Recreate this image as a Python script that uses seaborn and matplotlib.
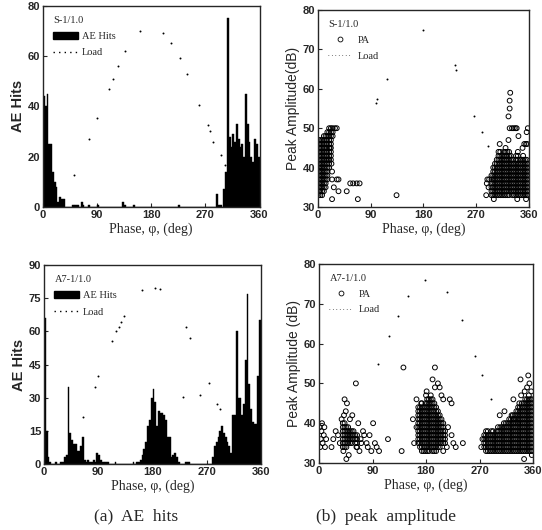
import numpy as np
import pandas as pd
import matplotlib
matplotlib.use("Agg")
import matplotlib.pyplot as plt
import seaborn as sns
from matplotlib.patches import Patch
from matplotlib.lines import Line2D

# ---- data ----
# AE hits per 3 deg phase bin, 0..357
bin_edges = list(range(0, 363, 3))

s1_hits = [44, 40, 45, 25, 25, 14, 10, 8, 2, 4,
           3, 3, 0, 0, 0, 0, 1, 1, 1, 1,
           0, 2, 1, 0, 0, 1, 0, 0, 0, 0,
           1, 0, 0, 0, 0, 0, 0, 0, 0, 0,
           0, 0, 0, 0, 2, 1, 0, 0, 0, 0,
           1, 0, 0, 0, 0, 0, 0, 0, 0, 0,
           0, 0, 0, 0, 0, 0, 0, 0, 0, 0,
           0, 0, 0, 0, 0, 1, 0, 0, 0, 0,
           0, 0, 0, 0, 0, 0, 0, 0, 0, 0,
           0, 0, 0, 0, 0, 0, 5, 1, 1, 0,
           7, 14, 75, 28, 24, 29, 26, 33, 27, 24,
           25, 20, 45, 33, 26, 20, 18, 27, 25, 20]

a7_hits = [66, 15, 3, 1, 0, 0, 1, 0, 0, 1,
           1, 3, 4, 35, 14, 11, 9, 9, 6, 6,
           8, 12, 2, 1, 2, 1, 1, 2, 1, 5,
           4, 2, 1, 1, 1, 1, 0, 0, 0, 1,
           0, 0, 0, 0, 0, 0, 0, 0, 0, 1,
           0, 1, 1, 2, 4, 7, 10, 17, 20, 30,
           34, 28, 17, 24, 23, 23, 22, 20, 12, 12,
           3, 4, 5, 3, 1, 0, 0, 0, 1, 1,
           1, 0, 0, 0, 0, 0, 0, 0, 0, 0,
           0, 0, 0, 3, 8, 10, 12, 15, 17, 14,
           12, 10, 8, 5, 22, 22, 60, 30, 30, 22,
           27, 47, 77, 36, 25, 19, 18, 18, 40, 65]

# load dots (in each panel's own y units)
s1_load_phase = [52, 77, 90, 109, 116, 124, 137, 162, 199, 213, 228, 240, 260, 274, 278, 283, 296, 303]
s1_load_hits = [12.7, 27, 35.5, 47, 51, 56, 62, 70, 69, 65, 59, 53, 40.5, 32.5, 30, 26, 20.5, 16.5]

s1_load_pa_phase = [99, 100, 117, 180, 234, 236, 266, 280, 290]
s1_load_pa = [56.3, 57.5, 62.6, 75, 66, 64.7, 53, 49, 45.5]

a7_load_phase = [64, 84, 90, 112, 120, 124, 128, 132, 162, 184, 192, 230, 235, 243, 258, 274, 287, 292]
a7_load_hits = [21.4, 35, 39.8, 55.8, 60, 62, 64, 67, 78.7, 79.8, 79, 30.5, 61.8, 57, 31, 36.5, 27, 25]

a7_load_pa_phase = [100, 118, 133, 150, 178, 215, 240, 262, 275, 290]
a7_load_pa = [55, 62, 67, 72, 76, 73, 66, 57, 52, 46]

# peak amplitude, dense columns: phase, lowest dB, highest dB (one hit per dB)
s1_col_phase = [1, 4, 7, 10, 13, 16, 19, 22, 25,
                296, 299, 302, 305, 308, 311, 314, 317, 320, 323, 326, 329,
                332, 335, 338, 341, 344, 347, 350, 353, 356, 359]
s1_col_lo = [33, 33, 33, 34, 35, 37, 40, 42, 48,
             33, 33, 33, 33, 33, 33, 33, 33, 33, 33, 33, 34,
             33, 33, 33, 33, 33, 33, 33, 33, 33, 33]
s1_col_hi = [47, 47, 47, 48, 48, 49, 50, 50, 50,
             38, 40, 41, 42, 44, 44, 43, 44, 45, 44, 44, 43,
             42, 41, 43, 44, 42, 42, 43, 42, 42, 41]
# scattered single hits
s1_pt_phase = [23, 24, 24, 27, 32, 35, 35, 49, 55, 60, 66, 71, 68, 24, 134, 29, 32, 20, 18,
               287, 288, 289, 291, 292, 310, 325, 325, 327, 327, 328, 327, 331, 334, 337,
               339, 342, 349, 352, 355, 357, 356, 358, 300, 340, 355]
s1_pt_db = [41, 39, 37, 35, 37, 37, 34, 34, 36, 36, 36, 36, 32, 32, 33, 50, 50, 45, 42,
            33, 36, 37, 35, 37, 46, 47, 53, 55, 57, 59, 50, 50, 50, 50,
            50, 48, 45, 46, 46, 46, 49, 50, 32, 32, 32]

a7_col_phase = [40, 43, 46, 49, 52, 55, 58, 61, 64,
                167, 170, 173, 176, 179, 182, 185, 188, 191, 194, 197, 200, 203, 206, 209, 212,
                278, 281, 284, 287, 290, 293, 296, 299, 302, 305, 308, 311, 314, 317, 320,
                323, 326, 329, 332, 335, 338, 341, 344, 347, 350, 353, 356, 359]
a7_col_lo = [34, 34, 34, 35, 35, 35, 36, 35, 34,
             35, 34, 33, 33, 33, 33, 33, 34, 33, 33, 33, 34, 34, 35, 35, 35,
             34, 33, 33, 33, 33, 33, 33, 33, 33, 33, 33, 33, 33, 33, 33,
             33, 33, 33, 33, 33, 33, 33, 33, 33, 33, 33, 33, 33]
a7_col_hi = [39, 40, 39, 39, 38, 38, 38, 37, 37,
             44, 44, 45, 44, 45, 46, 46, 47, 46, 45, 44, 43, 42, 41, 40, 38,
             37, 38, 38, 37, 38, 38, 37, 38, 38, 39, 39, 40, 40, 40, 41,
             41, 42, 42, 43, 44, 44, 45, 45, 46, 46, 47, 46, 46]
a7_pt_phase = [2, 3, 4, 5, 6, 8, 9, 10, 12, 1,
               43, 47, 45, 38, 40, 42, 52, 56, 62, 46, 41, 24, 21, 32, 35, 68, 71, 74, 63, 70,
               76, 80, 82, 85, 88, 91, 94, 97, 101, 116, 28, 50, 66,
               164, 172, 180, 181, 191, 195, 195, 200, 203, 206, 209, 220, 223, 142, 139, 158,
               164, 217, 223, 226, 242, 209, 215, 160, 230,
               304, 312, 324, 327, 337, 340, 339, 352, 354, 301, 328, 335, 346, 350, 357,
               275, 273, 358, 345]
a7_pt_db = [34, 36, 38, 40, 35, 37, 39, 34, 36, 39,
            46, 45, 43, 41, 40, 42, 41, 42, 50, 31, 33, 36, 34, 37, 35, 33, 35, 38, 34, 36,
            37, 35, 34, 37, 33, 40, 35, 34, 33, 36, 38, 32, 40,
            46, 45, 47, 48, 51, 49, 54, 50, 49, 47, 46, 46, 45, 54, 33, 41,
            39, 39, 37, 35, 35, 33, 34, 35, 34,
            42, 43, 42, 46, 45, 47, 51, 52, 50, 39, 41, 40, 48, 49, 48,
            36, 34, 32, 31]


def expand(col_phase, col_lo, col_hi, pt_phase, pt_db):
    ph, db = [], []
    for p, lo, hi in zip(col_phase, col_lo, col_hi):
        for d in range(lo, hi + 1):
            ph.append(p)
            db.append(d)
    return pd.DataFrame({"phase": ph + pt_phase, "db": db + pt_db})


sns.set_style("ticks")
serif = ["Liberation Serif", "DejaVu Serif"]
plt.rcParams["font.family"] = serif
plt.rcParams["xtick.direction"] = "in"
plt.rcParams["ytick.direction"] = "in"

fig = plt.figure(figsize=(5.42, 5.30), dpi=100)
ax1 = fig.add_axes([0.0793, 0.6094, 0.3995, 0.3800])
ax2 = fig.add_axes([0.5867, 0.6094, 0.3893, 0.3717])
ax3 = fig.add_axes([0.0812, 0.1245, 0.4004, 0.3755])
ax4 = fig.add_axes([0.5886, 0.1264, 0.3948, 0.3755])

centers = [e + 1.5 for e in bin_edges[:-1]]
tick_font = dict(family=["Liberation Sans", "DejaVu Sans"], weight="bold", size=8)


def hits_panel(ax, hits, lphase, lval, ymax, ystep, name):
    sns.histplot(x=centers, weights=hits, bins=bin_edges, color="black",
                 edgecolor="black", linewidth=0.3, alpha=1, ax=ax)
    sns.scatterplot(x=lphase, y=lval, color="black", s=2, linewidth=0, ax=ax)
    ax.set_ylim(0, ymax)
    ax.set_yticks(np.arange(0, ymax + 1, ystep))
    ax.set_ylabel("AE Hits", fontsize=10.5, fontweight="bold",
                  family=["Liberation Sans", "DejaVu Sans"], labelpad=2)
    handles = [Patch(facecolor="black", edgecolor="black"),
               Line2D([], [], color="black", ls=(0, (1, 3)), lw=1)]
    ax.legend(handles, ["AE Hits", "Load"], title=name, loc="upper left",
              frameon=False, fontsize=7.5, title_fontsize=7.5, handlelength=2.4,
              handletextpad=0.3, labelspacing=0.65, borderaxespad=0.6,
              alignment="left")


def pa_panel(ax, df, lphase, lval, name, ylabel):
    sns.scatterplot(data=df, x="phase", y="db", marker="o", s=12,
                    facecolors="none", edgecolor="black", linewidth=0.7, ax=ax)
    sns.scatterplot(x=lphase, y=lval, color="black", s=2, linewidth=0, ax=ax)
    ax.set_ylim(30, 80)
    ax.set_yticks(np.arange(30, 81, 10))
    ax.set_ylabel(ylabel, fontsize=10, family=["Liberation Sans", "DejaVu Sans"], labelpad=2)
    handles = [Line2D([], [], color="black", marker="o", mfc="none", ls="", ms=3.5, mew=0.6),
               Line2D([], [], color="black", ls=(0, (1, 4)), lw=0.5)]
    ax.legend(handles, ["PA", "Load"], title=name, loc="upper left",
              frameon=False, fontsize=7.5, title_fontsize=7.5, handlelength=2.3,
              handletextpad=0.5, labelspacing=0.6, borderaxespad=0.6,
              alignment="left")


hits_panel(ax1, s1_hits, s1_load_phase, s1_load_hits, 80, 20, "S-1/1.0")
hits_panel(ax3, a7_hits, a7_load_phase, a7_load_hits, 90, 15, "A7-1/1.0")
pa_panel(ax2, expand(s1_col_phase, s1_col_lo, s1_col_hi, s1_pt_phase, s1_pt_db),
         s1_load_pa_phase, s1_load_pa, "S-1/1.0", "Peak Amplitude(dB)")
pa_panel(ax4, expand(a7_col_phase, a7_col_lo, a7_col_hi, a7_pt_phase, a7_pt_db),
         a7_load_pa_phase, a7_load_pa, "A7-1/1.0", "Peak Amplitude (dB)")

for ax in (ax1, ax2, ax3, ax4):
    ax.set_xlim(0, 360)
    ax.set_xticks([0, 90, 180, 270, 360])
    ax.set_xlabel("Phase, φ, (deg)", fontsize=10, labelpad=2)
    ax.tick_params(length=3, width=0.8, pad=2)
    for lab in ax.get_xticklabels() + ax.get_yticklabels():
        lab.set_fontproperties(tick_font)
    for sp in ax.spines.values():
        sp.set_visible(True)
        sp.set_linewidth(1.0)

fig.text(0.251, 0.025, "(a)  AE  hits", ha="center", va="center", fontsize=12.5)
fig.text(0.712, 0.025, "(b)  peak  amplitude", ha="center", va="center", fontsize=12.5)

fig.savefig("out.png", dpi=100)
